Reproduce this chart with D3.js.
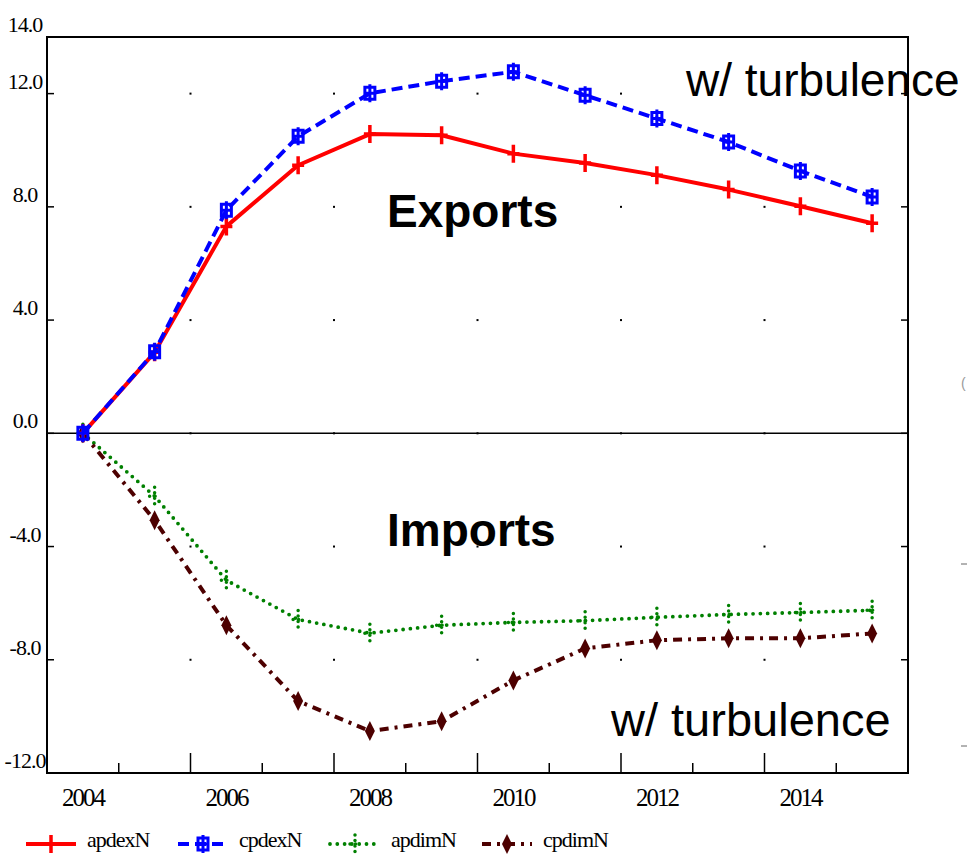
<!DOCTYPE html>
<html>
<head>
<meta charset="utf-8">
<script src="https://cdn.jsdelivr.net/npm/d3@7"></script>
<style>
    body { margin: 0; background: #fff; }
</style>
</head>
<body>
<script>
// values
const years = [2004, 2005, 2006, 2007, 2008, 2009, 2010, 2011, 2012, 2013, 2014, 2015];
const apdexN = [0, 2.86, 7.31, 9.47, 10.57, 10.53, 9.88, 9.55, 9.12, 8.61, 8.02, 7.42];
const cpdexN = [0, 2.88, 7.88, 10.49, 12.01, 12.44, 12.77, 11.94, 11.12, 10.29, 9.27, 8.35];
const apdimN = [0, -2.22, -5.19, -6.58, -7.06, -6.78, -6.68, -6.62, -6.5, -6.4, -6.33, -6.25];
const cpdimN = [0, -3.07, -6.78, -9.46, -10.52, -10.17, -8.73, -7.6, -7.31, -7.24, -7.24, -7.07];
const seriesNames = ["apdexN", "cpdexN", "apdimN", "cpdimN"];
const yLabels = [14, 12, 8, 4, 0, -4, -8, -12];
const yTicks = [12, 8, 4, 0, -4, -8];
const xLabels = [2004, 2006, 2008, 2010, 2012, 2014];

window.onload = initPage;

function initPage() {
    const svgInfo = {
        SVG_WIDTH: 967,
        SVG_HEIGHT: 862,
        LEFT: 47,
        RIGHT: 908,
        TOP: 37,
        BOTTOM: 773,
    };
    const svg = d3.select("body")
        .append("svg")
        .attr("width", svgInfo.SVG_WIDTH)
        .attr("height", svgInfo.SVG_HEIGHT);

    const x = d3.scaleLinear().domain([2003.5, 2015.5]).range([svgInfo.LEFT, svgInfo.RIGHT]);
    const y = d3.scaleLinear().domain([-12, 14]).range([svgInfo.BOTTOM, svgInfo.TOP]);

    drawAnnotations(svg, x, y);
    drawAxes(svg, x, y, svgInfo);
    drawSeries(svg, x, y);
    drawLegend(svg);
}

function drawAnnotations(svg, x, y) {
    const sans = "Liberation Sans, Arial, sans-serif";
    // the original runs off the right edge; kept just inside here
    svg.append("text").attr("x", 686).attr("y", 96)
        .style("font-family", sans).style("font-size", "46px").text("w/ turbulence");
    svg.append("text").attr("x", 611).attr("y", 736)
        .style("font-family", sans).style("font-size", "47px").text("w/ turbulence");
    svg.append("text").attr("x", 387).attr("y", 227)
        .style("font-family", sans).style("font-size", "46px").style("font-weight", "bold").text("Exports");
    svg.append("text").attr("x", 387).attr("y", 546)
        .style("font-family", sans).style("font-size", "46px").style("font-weight", "bold").text("Imports");

    // bits of a neighbouring figure cut off at the right edge
    svg.append("text").attr("x", 961).attr("y", 388)
        .style("font-family", sans).style("font-size", "14px").style("fill", "#999").text("(");
    [564, 746].forEach((yy) => {
        svg.append("line").attr("x1", 961).attr("x2", 967).attr("y1", yy).attr("y2", yy)
            .attr("stroke", "#666").attr("stroke-width", 1);
    });
}

function drawAxes(svg, x, y, svgInfo) {
    const serif = "Liberation Serif, Times New Roman, serif";
    const g = svg.append("g");

    // frame
    g.append("rect")
        .attr("x", svgInfo.LEFT).attr("y", svgInfo.TOP)
        .attr("width", svgInfo.RIGHT - svgInfo.LEFT)
        .attr("height", svgInfo.BOTTOM - svgInfo.TOP)
        .attr("fill", "none").attr("stroke", "#000").attr("stroke-width", 2);

    // zero line
    g.append("line")
        .attr("x1", svgInfo.LEFT).attr("x2", svgInfo.RIGHT)
        .attr("y1", y(0)).attr("y2", y(0))
        .attr("stroke", "#000").attr("stroke-width", 1.5);

    // y ticks on both sides, pointing inward
    g.selectAll(".ytickL").data(yTicks).enter().append("line")
        .attr("x1", svgInfo.LEFT).attr("x2", svgInfo.LEFT + 7)
        .attr("y1", (d) => y(d)).attr("y2", (d) => y(d))
        .attr("stroke", "#000").attr("stroke-width", 1.5);
    g.selectAll(".ytickR").data(yTicks).enter().append("line")
        .attr("x1", svgInfo.RIGHT).attr("x2", svgInfo.RIGHT - 7)
        .attr("y1", (d) => y(d)).attr("y2", (d) => y(d))
        .attr("stroke", "#000").attr("stroke-width", 1.5);

    // x ticks on the bottom, at year boundaries
    const xTicks = d3.range(2004.5, 2015.5, 1);
    g.selectAll(".xtick").data(xTicks).enter().append("line")
        .attr("x1", (d) => x(d)).attr("x2", (d) => x(d))
        .attr("y1", svgInfo.BOTTOM)
        .attr("y2", (d) => svgInfo.BOTTOM - (Math.round(d - 0.5) % 2 === 1 ? 20 : 10))
        .attr("stroke", "#000").attr("stroke-width", 1.5);

    // grid dots
    const majorX = xTicks.filter((d) => Math.round(d - 0.5) % 2 === 1);
    const dots = [];
    majorX.forEach((xv) => yTicks.forEach((yv) => dots.push([xv, yv])));
    g.selectAll(".dot").data(dots).enter().append("rect")
        .attr("x", (d) => x(d[0]) - 1).attr("y", (d) => y(d[1]) - 1)
        .attr("width", 2).attr("height", 2).attr("fill", "#000");

    // labels (plain hyphen for the minus sign, as in the original)
    g.selectAll(".ylab").data(yLabels).enter().append("text")
        .attr("x", 25).attr("y", (d) => y(d) - 5)
        .attr("text-anchor", "middle")
        .style("font-family", serif).style("font-size", "22px").style("letter-spacing", "-1px")
        .text((d) => d3.format(".1f")(d).replace("\u2212", "-"));
    g.selectAll(".xlab").data(xLabels).enter().append("text")
        .attr("x", (d) => x(d)).attr("y", 806)
        .attr("text-anchor", "middle")
        .style("font-family", serif).style("font-size", "25px").style("letter-spacing", "-2px")
        .text((d) => d);
}

const styles = {
    apdexN: { color: "#ff0000", dash: null, width: 4, cap: "butt" },
    cpdexN: { color: "#0000ff", dash: "11,6", width: 4, cap: "butt" },
    apdimN: { color: "#008000", dash: "0,7.3", width: 3.8, cap: "round" },
    cpdimN: { color: "#4d0000", dash: "9,6,3,6", width: 4, cap: "butt" },
};

function drawMarker(g, name, cx, cy) {
    const s = styles[name];
    const m = g.append("g").attr("transform", `translate(${cx},${cy})`);
    if (name === "apdexN") {
        m.append("path").attr("d", "M0,-9V9M-6,0H6")
            .attr("stroke", s.color).attr("stroke-width", 3.5).attr("fill", "none");
    } else if (name === "cpdexN") {
        m.append("path").attr("d", "M0,-9V9M-5,-6H5V6H-5ZM-5,0H5")
            .attr("stroke", s.color).attr("stroke-width", 3).attr("fill", "none");
    } else if (name === "apdimN") {
        m.append("path").attr("d", "M0,-9V9M-5,0H5")
            .attr("stroke", s.color).attr("stroke-width", 3.5).attr("fill", "none")
            .attr("stroke-dasharray", "0,5.5").attr("stroke-linecap", "round");
    } else {
        m.append("path").attr("d", "M0,-10L5,0L0,10L-5,0Z").attr("fill", s.color);
    }
}

function drawSeries(svg, x, y) {
    const data = { apdexN, cpdexN, apdimN, cpdimN };
    const line = d3.line().x((d) => x(d[0])).y((d) => y(d[1]));
    // draw imports first so exports sit on top near the origin
    ["apdimN", "cpdimN", "apdexN", "cpdexN"].forEach((name) => {
        const s = styles[name];
        const pts = years.map((yr, i) => [yr, data[name][i]]);
        const g = svg.append("g");
        g.append("path").datum(pts).attr("d", line)
            .attr("fill", "none").attr("stroke", s.color).attr("stroke-width", s.width)
            .attr("stroke-dasharray", s.dash).attr("stroke-linecap", s.cap)
            .attr("stroke-linejoin", "round");
        pts.forEach((p) => drawMarker(g, name, x(p[0]), y(p[1])));
    });
}

function drawLegend(svg) {
    const serif = "Liberation Serif, Times New Roman, serif";
    const ly = 844;
    seriesNames.forEach((name, i) => {
        const s = styles[name];
        const x0 = 26 + i * 152;
        const g = svg.append("g");
        g.append("line").attr("x1", x0).attr("x2", x0 + 50).attr("y1", ly).attr("y2", ly)
            .attr("stroke", s.color).attr("stroke-width", s.width)
            .attr("stroke-dasharray", s.dash).attr("stroke-linecap", s.cap);
        drawMarker(g, name, x0 + 25, ly);
        g.append("text").attr("x", x0 + 61).attr("y", ly + 3)
            .style("font-family", serif).style("font-size", "22px").style("letter-spacing", "-1px")
            .text(name);
    });
}
</script>
</body>
</html>
